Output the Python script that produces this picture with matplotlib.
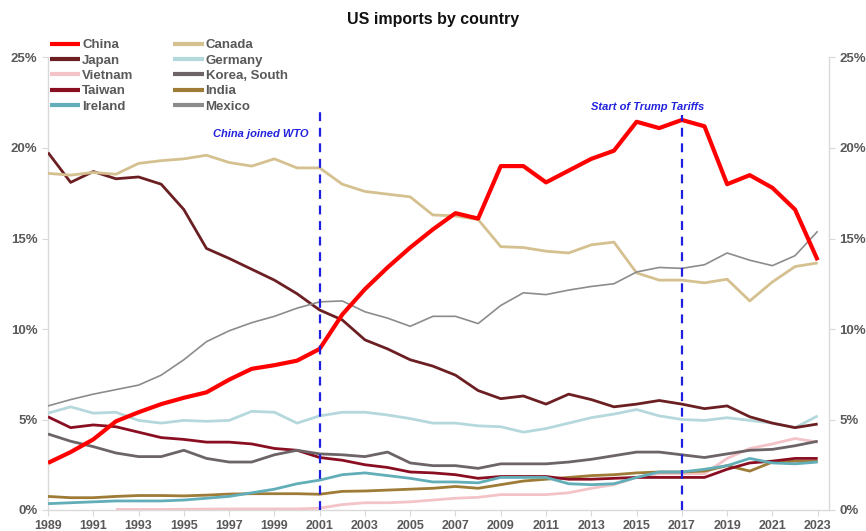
import matplotlib
matplotlib.use("Agg")
import matplotlib.pyplot as plt
from matplotlib.ticker import FuncFormatter

years = list(range(1989, 2024))

china = [2.6, 3.2, 3.9, 4.9, 5.4, 5.85, 6.2, 6.5, 7.2, 7.8, 8.0, 8.25, 8.9, 10.8, 12.2, 13.4, 14.5, 15.5,
         16.4, 16.1, 19.0, 19.0, 18.1, 18.75, 19.4, 19.85, 21.45, 21.1, 21.55, 21.2, 18.0, 18.5, 17.8, 16.6, 13.8]
canada = [18.6, 18.5, 18.65, 18.55, 19.15, 19.3, 19.4, 19.6, 19.2, 19.0, 19.4, 18.9, 18.9, 18.0, 17.6, 17.45,
          17.3, 16.3, 16.25, 16.05, 14.55, 14.5, 14.3, 14.2, 14.65, 14.8, 13.1, 12.7, 12.7, 12.55, 12.75, 11.55,
          12.6, 13.45, 13.65]
japan = [19.75, 18.1, 18.7, 18.3, 18.4, 18.0, 16.6, 14.45, 13.9, 13.3, 12.7, 11.95, 11.05, 10.5, 9.4, 8.9, 8.3,
         7.95, 7.45, 6.6, 6.15, 6.3, 5.85, 6.4, 6.1, 5.7, 5.85, 6.05, 5.85, 5.6, 5.75, 5.15, 4.8, 4.55, 4.75]
germany = [5.35, 5.7, 5.35, 5.4, 4.95, 4.8, 4.95, 4.9, 4.95, 5.45, 5.4, 4.8, 5.2, 5.4, 5.4, 5.25, 5.05, 4.8,
           4.8, 4.65, 4.6, 4.3, 4.5, 4.8, 5.1, 5.3, 5.55, 5.2, 5.0, 4.95, 5.1, 4.95, 4.8, 4.55, 5.2]
vietnam = [None, None, None, 0.03, 0.03, 0.03, 0.04, 0.05, 0.06, 0.06, 0.06, 0.06, 0.1, 0.3, 0.4, 0.4, 0.45,
           0.55, 0.65, 0.7, 0.85, 0.85, 0.85, 0.95, 1.2, 1.4, 1.8, 2.0, 2.0, 2.0, 2.85, 3.4, 3.65, 3.95, 3.75]
korea = [4.2, 3.8, 3.5, 3.15, 2.95, 2.95, 3.3, 2.85, 2.65, 2.65, 3.05, 3.3, 3.1, 3.05, 2.95, 3.2, 2.6, 2.45,
         2.45, 2.3, 2.55, 2.55, 2.55, 2.65, 2.8, 3.0, 3.2, 3.2, 3.05, 2.9, 3.1, 3.3, 3.35, 3.55, 3.8]
taiwan = [5.15, 4.55, 4.7, 4.6, 4.3, 4.0, 3.9, 3.75, 3.75, 3.65, 3.4, 3.3, 2.9, 2.75, 2.5, 2.35, 2.1, 2.05,
          1.95, 1.75, 1.85, 1.85, 1.85, 1.7, 1.7, 1.75, 1.8, 1.8, 1.8, 1.8, 2.25, 2.6, 2.7, 2.85, 2.85]
india = [0.75, 0.68, 0.68, 0.75, 0.8, 0.8, 0.78, 0.82, 0.88, 0.9, 0.9, 0.9, 0.87, 1.03, 1.05, 1.1, 1.15, 1.2,
         1.3, 1.2, 1.4, 1.6, 1.7, 1.8, 1.9, 1.95, 2.05, 2.1, 2.1, 2.15, 2.45, 2.15, 2.65, 2.7, 2.7]
ireland = [0.35, 0.4, 0.45, 0.5, 0.5, 0.5, 0.55, 0.65, 0.75, 0.95, 1.15, 1.45, 1.65, 1.95, 2.05, 1.9, 1.75,
           1.55, 1.55, 1.5, 1.8, 1.8, 1.8, 1.45, 1.4, 1.45, 1.8, 2.1, 2.1, 2.25, 2.45, 2.85, 2.6, 2.55, 2.65]
mexico = [5.75, 6.1, 6.4, 6.65, 6.9, 7.45, 8.3, 9.3, 9.9, 10.35, 10.7, 11.15, 11.5, 11.55, 10.95, 10.6, 10.15,
          10.7, 10.7, 10.3, 11.3, 12.0, 11.9, 12.15, 12.35, 12.5, 13.15, 13.4, 13.35, 13.55, 14.2, 13.8, 13.5,
          14.05, 15.4]

events_years = [2001, 2017]
events_labels = ["China joined WTO", "Start of Trump Tariffs"]
events_tops = [22.1, 21.8]
xtick_years = list(range(1989, 2024, 2))

# (label, data, color, linewidth, zorder)
series = [
    ("China", china, "#FF0000", 3.0, 10),
    ("Japan", japan, "#6B1F22", 2.0, 5),
    ("Vietnam", vietnam, "#F4C3C8", 2.0, 3),
    ("Taiwan", taiwan, "#8A0E22", 2.0, 4),
    ("Ireland", ireland, "#62AEB8", 2.0, 4),
    ("Canada", canada, "#D5C08F", 2.0, 5),
    ("Germany", germany, "#B5D8DD", 2.0, 4),
    ("Korea, South", korea, "#6C6467", 2.0, 4),
    ("India", india, "#9E7B36", 2.0, 3),
    ("Mexico", mexico, "#8C8C8C", 1.2, 5),
]

fig = plt.figure(figsize=(8.66, 5.31), dpi=100)
ax = fig.add_axes([48 / 866, 1 - 510 / 531, (829 - 48) / 866, (510 - 57.5) / 531])

handles = []
for label, data, color, lw, z in series:
    xs = [y for y, v in zip(years, data) if v is not None]
    vs = [v for v in data if v is not None]
    h, = ax.plot(xs, vs, color=color, lw=lw, zorder=z, label=label, solid_capstyle="butt")
    handles.append(h)

for yr, lab, top in zip(events_years, events_labels, events_tops):
    ax.plot([yr, yr], [0, top], color="#1F1FE0", lw=1.6, ls=(0, (4, 3)), zorder=11)

ax.text(2001 - 0.5, 20.8, events_labels[0], color="#2222DD", fontsize=8,
        fontstyle="italic", fontweight="bold", ha="right", va="center", family="Liberation Sans")
ax.text(2017 + 1.0, 22.25, events_labels[1], color="#2222DD", fontsize=8,
        fontstyle="italic", fontweight="bold", ha="right", va="center", family="Liberation Sans")

ax.set_xlim(1989, 2023.5)
ax.set_ylim(0, 25)
ax.set_xticks(xtick_years)
ax.set_xticklabels([str(y) for y in xtick_years])
ax.set_yticks([0, 5, 10, 15, 20, 25])
ax.yaxis.set_major_formatter(FuncFormatter(lambda v, p: f"{int(v)}%"))

tick_col = "#595959"
ax.spines["top"].set_visible(False)
for side in ["left", "right", "bottom"]:
    ax.spines[side].set_color("#D9D9D9")
    ax.spines[side].set_linewidth(1.0)

ax.tick_params(axis="both", colors="#D9D9D9", labelcolor=tick_col, labelsize=9, length=4)
ax.tick_params(axis="y", left=True, right=True, labelleft=True, labelright=True, direction="out",
               labelsize=9.5)
for lab in ax.get_xticklabels() + ax.get_yticklabels():
    lab.set_fontweight("bold")
    lab.set_family("Liberation Sans")
for t in ax.yaxis.get_major_ticks():
    t.label2.set_fontweight("bold")
    t.label2.set_family("Liberation Sans")
    t.label2.set_color(tick_col)

fig.suptitle("US imports by country", x=0.5, y=0.978, fontsize=11.5, fontweight="bold",
             color="#111111", family="Liberation Sans", va="top")

leg = fig.legend(handles=handles, loc="upper left", bbox_to_anchor=(50 / 866, 1 - 39 / 531),
                 ncol=2, frameon=False, handlelength=2.3, handletextpad=0.15,
                 columnspacing=3.0, labelspacing=0.24, borderaxespad=0, borderpad=0,
                 prop={"family": "Liberation Sans", "weight": "bold", "size": 9.5})
for t in leg.get_texts():
    t.set_color(tick_col)
for lh in leg.get_lines():
    lh.set_linewidth(3.0)

fig.savefig("out.png", dpi=100)
